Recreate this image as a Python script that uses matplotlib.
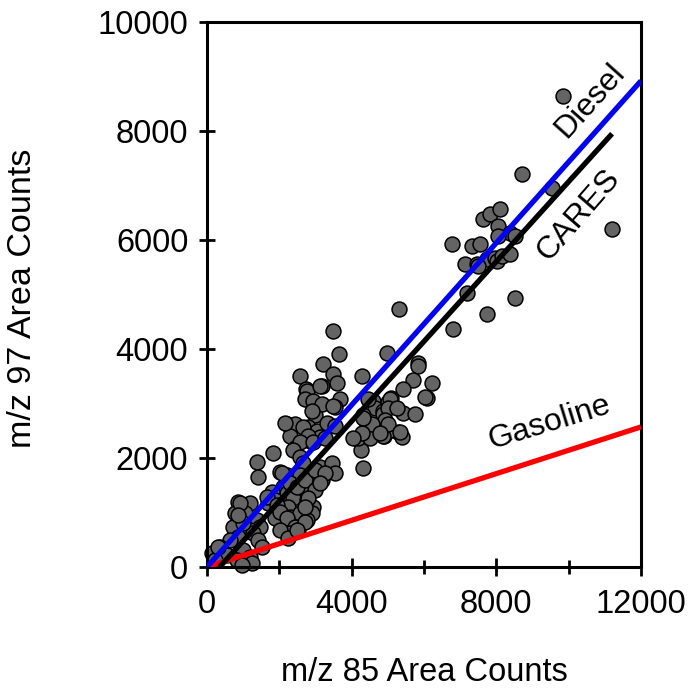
import matplotlib
matplotlib.use("Agg")
import matplotlib.pyplot as plt
import numpy as np

plt.rcParams['font.family'] = ['Liberation Sans', 'DejaVu Sans']

# scatter data: m/z 85 (x) vs m/z 97 (y) area counts
x_counts = [9850, 8710, 9540, 11200, 7630, 7825, 8100, 8050, 8380, 8520, 8045, 6775, 7330, 7550,
            7135, 7465, 7740, 7960, 8020, 8155, 8380, 7495, 7190, 8520, 7740, 6800, 5300,
            3480, 3650, 4980, 5830, 5830, 3205, 2570, 3480, 3595, 4290, 5700, 6220, 6080, 5420,
            6030, 2740, 2765, 3180, 3680, 3540, 2930, 2990, 4590, 4645, 4870, 5090, 5005, 5420,
            5750, 4315, 4510, 4450, 5280, 5390, 4895, 4230, 4260, 4315, 4450, 4870, 5060, 5005,
            5255, 4425, 4590, 4920, 5005, 4175, 4510, 4870, 4560, 5005, 4785, 4285, 5335, 4035,
            4315,
            2765, 3125, 2710, 2930, 3180, 3480, 2900, 2210, 2430, 2790, 3040, 3345, 2295, 2430,
            2850, 3125, 2155, 2655, 2790, 3320, 3540, 2570, 2930, 3265, 2380, 1825, 1380, 1410,
            2570, 2655, 3125, 3455, 3540, 3180, 2020, 2210, 2570, 2765, 2100, 2210, 2380, 1800,
            1880, 1690, 2765, 2765, 2930, 2900, 2240, 2295, 1935, 1880, 2570, 2765, 2075, 2295,
            2490, 2710, 2985, 3265, 2985, 2790, 2710, 3125, 1660, 1935, 2020, 2210, 2430, 2295,
            2515, 2710,
            860, 1190, 775, 1050, 1380, 1465, 1190, 2020, 2240, 2490, 720, 860, 640, 1270, 1410,
            1520, 360, 140, 550, 220, 1000, 1190, 1245, 830, 970, 910, 1000, 860, 300]
y_counts = [8650, 7220, 6950, 6200, 6380, 6470, 6560, 6250, 6120, 6070, 6070, 5920, 5890, 5920,
            5560, 5560, 5650, 5670, 5610, 5700, 5740, 5520, 5030, 4940, 4640, 4370, 4730,
            4330, 3910, 3930, 3750, 3690, 3730, 3510, 3550, 3380, 3510, 3440, 3380, 3110, 3270,
            3125, 3270, 3090, 3330, 3090, 2940, 2870, 2780, 3050, 2910, 2870, 3110, 3020, 2830,
            2815, 2780, 2630, 2470, 2470, 2380, 2410, 2320, 2140, 1810, 3090, 2815, 3090, 2925,
            2925, 2630, 2500, 2690, 2500, 2375, 2375, 2410, 2630, 2630, 2450, 2450, 2470, 2360,
            2740,
            3235, 3330, 3090, 3050, 3000, 2960, 2870, 2630, 2630, 2560, 2500, 2630, 2410, 2190,
            2320, 2380, 2650, 2560, 2410, 2650, 2595, 2285, 2285, 2375, 2140, 2085, 1920, 1650,
            2010, 1900, 1830, 1900, 1720, 1590, 1740, 1680, 1680, 1550, 1460, 1350, 1260, 1370,
            1225, 1170, 1410, 1225, 1100, 990, 1100, 915, 1040, 895, 990, 860, 1720, 1535,
            1460, 1590, 1775, 1720, 1410, 1260, 1100, 1535, 1280, 1135, 1005, 895, 730, 620,
            675, 820,
            1190, 1170, 990, 990, 860, 730, 675, 675, 530, 675, 730, 550, 495, 620, 495,
            365, 365, 255, 220, 130, 310, 185, 75, 130, 35, 1170, 800, 950, 365]

# reference source lines (x endpoints, y endpoints)
diesel_x = [0, 12000]
diesel_y = [0, 8920]
cares_x = [350, 11200]
cares_y = [0, 7950]
gasoline_x = [0, 12000]
gasoline_y = [0, 2570]

x_ticks = [0, 4000, 8000, 12000]
x_minor = [2000, 6000, 10000]
y_ticks = [0, 2000, 4000, 6000, 8000, 10000]

fig = plt.figure(figsize=(6.89, 6.93), dpi=100)
ax = fig.add_axes([207/689, 1 - 567/693, (641-207)/689, (567-22)/693])

ax.scatter(x_counts, y_counts, s=115, facecolor='#646464', edgecolor='black',
           linewidths=1.1, zorder=2, clip_on=False)
ax.plot(gasoline_x, gasoline_y, color='#ff0000', lw=3.8, zorder=3, solid_capstyle='butt')
ax.plot(cares_x, cares_y, color='black', lw=3.8, zorder=3, solid_capstyle='butt')
ax.plot(diesel_x, diesel_y, color='#0000ff', lw=3.8, zorder=4, solid_capstyle='butt')

ax.set_xlim(0, 12000)
ax.set_ylim(0, 10000)
ax.set_xticks(x_ticks)
ax.set_xticks(x_minor, minor=True)
ax.set_yticks(y_ticks)

for sp in ax.spines.values():
    sp.set_linewidth(2.2)

ax.tick_params(axis='x', which='major', direction='inout', length=13, width=2, pad=9,
               labelsize=23.5)
ax.tick_params(axis='x', which='minor', direction='inout', length=9.5, width=2)
ax.tick_params(axis='y', which='major', direction='inout', length=11, width=2, pad=8,
               labelsize=23.5)

ax.set_xlabel('m/z 85 Area Counts', fontsize=23.5)
ax.set_ylabel('m/z 97 Area Counts', fontsize=24.5)
ax.xaxis.set_label_coords(0.5, -0.165)
ax.yaxis.set_label_coords(-0.39, 0.493)

ax.text(10590, 8560, 'Diesel', rotation=48, fontsize=23, ha='center', va='center')
ax.text(10260, 6450, 'CARES', rotation=49, fontsize=23, ha='center', va='center')
ax.text(9480, 2650, 'Gasoline', rotation=17, fontsize=23, ha='center', va='center')

fig.savefig('out.png', dpi=100)
